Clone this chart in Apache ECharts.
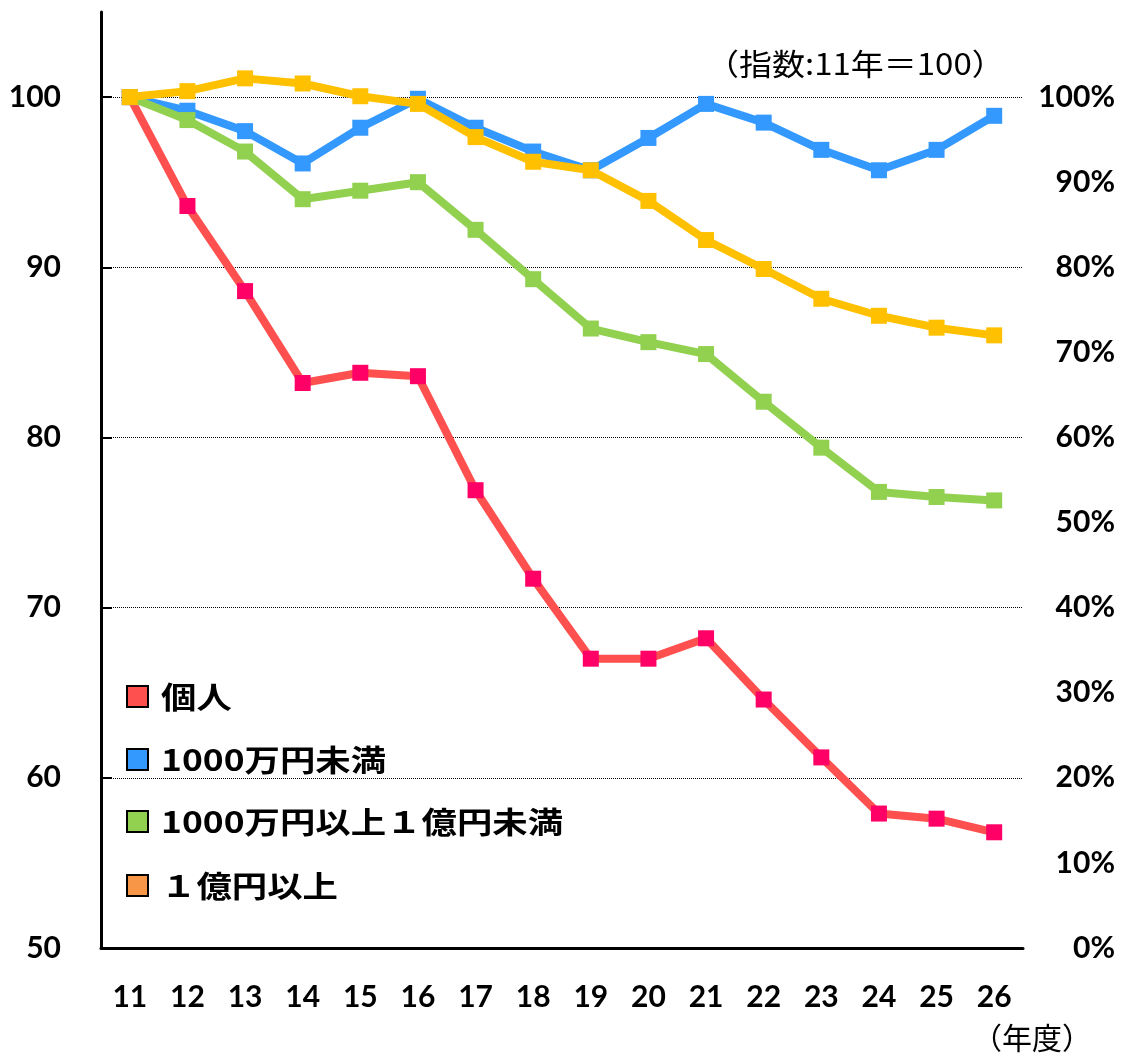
<!DOCTYPE html>
<html>
<head>
<meta charset="utf-8">
<script src="https://cdn.jsdelivr.net/npm/echarts@6/dist/echarts.min.js"></script>
<style>
  html, body { margin: 0; padding: 0; background: #fff; }
  #chart { width: 1123px; height: 1056px; }
</style>
</head>
<body>
<div id="chart"></div>
<script>
// 年度（11〜26年度）
const years = ['11','12','13','14','15','16','17','18','19','20','21','22','23','24','25','26'];

// 指数（11年度＝100）
const kojin         = [100, 93.6, 88.6, 83.2, 83.8, 83.6, 76.9, 71.7, 67.0, 67.0, 68.2, 64.6, 61.2, 57.9, 57.6, 56.8];
const under10m      = [100, 99.2, 98.0, 96.1, 98.2, 99.9, 98.2, 96.8, 95.7, 97.6, 99.6, 98.5, 96.9, 95.7, 96.9, 98.9];
const from10mTo100m = [100, 98.65, 96.8, 94.0, 94.5, 95.0, 92.2, 89.3, 86.4, 85.6, 84.9, 82.1, 79.4, 76.8, 76.5, 76.3];
const over100m      = [100, 100.35, 101.1, 100.8, 100.05, 99.6, 97.65, 96.2, 95.7, 93.9, 91.6, 89.9, 88.15, 87.15, 86.45, 86.0];

const seriesNames = ['個人', '1000万円未満', '1000万円以上１億円未満', '１億円以上'];

const tickFont = { fontFamily: 'Lato, "Open Sans", sans-serif', fontWeight: 'bold', fontSize: 30, color: '#000' };
const jpFont = '"Noto Sans CJK JP", sans-serif';

// 凡例の色見本（線の色とは別）
const legendColors = ['#ff5050', '#3399ff', '#92d050', '#f79646'];

function lineSeries(name, data, lineColor, markerColor, z) {
  return {
    name: name,
    type: 'line',
    data: data,
    yAxisIndex: 0,
    symbol: 'rect',
    symbolSize: 16,
    z: z,
    lineStyle: { color: lineColor, width: 8 },
    itemStyle: { color: markerColor },
    emphasis: { disabled: true },
    animation: false
  };
}

// 凡例（縦並び、文字はやや横長）
function legendGraphic() {
  const items = [];
  const rowY = [697, 760, 822, 886];
  seriesNames.forEach(function (name, i) {
    items.push({
      type: 'rect',
      shape: { x: 127, y: rowY[i] - 11, width: 21, height: 21 },
      style: { fill: legendColors[i], stroke: '#000', lineWidth: 2 }
    });
    items.push({
      type: 'text',
      x: 161,
      y: rowY[i],
      scaleX: 1.18,
      style: {
        text: name,
        font: 'bold 30px ' + jpFont,
        fill: '#000',
        verticalAlign: 'middle',
        align: 'left'
      }
    });
  });
  return items;
}

const chart = echarts.init(document.getElementById('chart'), null, { renderer: 'canvas' });

chart.setOption({
  animation: false,
  backgroundColor: '#fff',
  grid: { left: 101, right: 100, top: 12, bottom: 108, containLabel: false },
  xAxis: {
    type: 'category',
    data: years,
    boundaryGap: true,
    axisLine: { lineStyle: { color: '#000', width: 3 } },
    axisTick: { inside: true, length: 10, lineStyle: { color: '#000', width: 2 } },
    axisLabel: Object.assign({ margin: 34 }, tickFont),
    splitLine: { show: false }
  },
  yAxis: [
    {
      type: 'value',
      min: 50,
      max: 105,
      interval: 10,
      position: 'left',
      axisLine: { show: true, lineStyle: { color: '#000', width: 3 } },
      axisTick: { show: true, inside: true, length: 11, lineStyle: { color: '#000', width: 2 } },
      axisLabel: Object.assign({ margin: 40, showMaxLabel: false }, tickFont),
      splitLine: { show: true, showMinLine: false, showMaxLine: false, lineStyle: { color: '#000', type: 'dotted', width: 1 } }
    },
    {
      type: 'value',
      min: 0,
      max: 110,
      interval: 10,
      position: 'right',
      axisLine: { show: false },
      axisTick: { show: false },
      axisLabel: Object.assign({ margin: 92, align: 'right', showMaxLabel: false, formatter: '{value}%' }, tickFont),
      splitLine: { show: false }
    }
  ],
  graphic: legendGraphic().concat([
    {
      type: 'text',
      x: 706,
      y: 64,
      scaleX: 1.1,
      style: { text: '（指数:11年＝100）', font: '30px ' + jpFont, fill: '#000', verticalAlign: 'middle' }
    },
    {
      type: 'text',
      x: 972,
      y: 1038,
      style: { text: '（年度）', font: '30px ' + jpFont, fill: '#000', verticalAlign: 'middle' }
    }
  ]),
  series: [
    lineSeries(seriesNames[0], kojin, '#ff5050', '#ff0066', 2),
    lineSeries(seriesNames[1], under10m, '#3399ff', '#3399ff', 3),
    lineSeries(seriesNames[2], from10mTo100m, '#92d050', '#92d050', 4),
    lineSeries(seriesNames[3], over100m, '#ffc000', '#ffc000', 5)
  ]
});
</script>
</body>
</html>
